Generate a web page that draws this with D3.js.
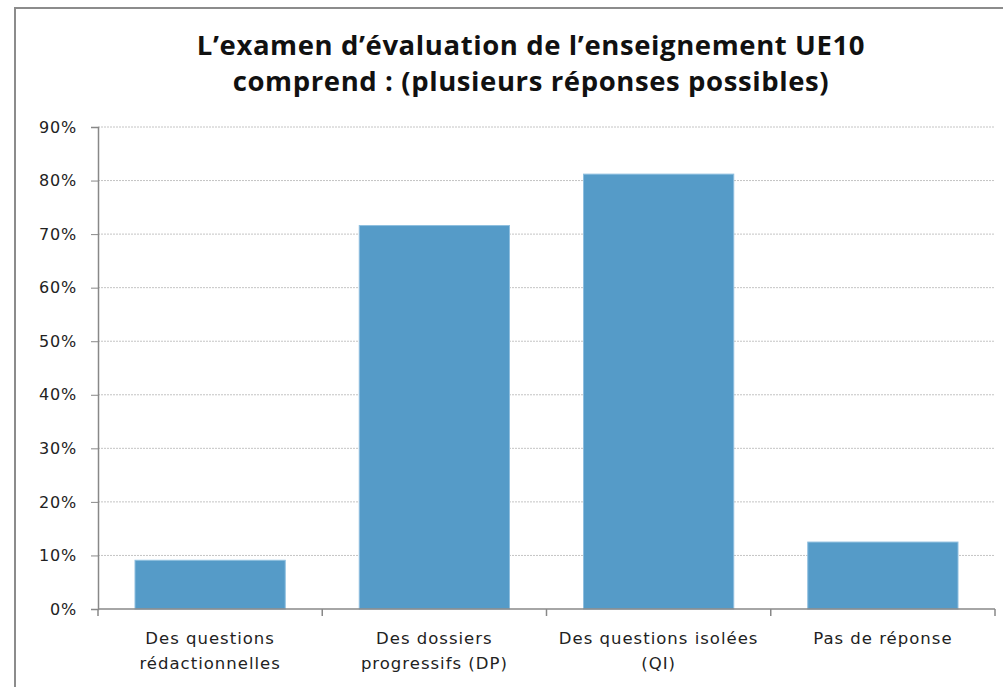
<!DOCTYPE html>
<html>
<head>
<meta charset="utf-8">
<script src="https://cdn.jsdelivr.net/npm/d3@7"></script>
<style>
  body { margin: 0; background: #fff; }
  svg { display: block; }
</style>
</head>
<body>
<div id="chart"></div>
<script>
// chart data
const categories = ["Des questions rédactionnelles", "Des dossiers progressifs (DP)", "Des questions isolées (QI)", "Pas de réponse"];
const categoryLines = [["Des questions", "rédactionnelles"], ["Des dossiers", "progressifs (DP)"], ["Des questions isolées", "(QI)"], ["Pas de réponse"]];
const values = [0.091, 0.716, 0.812, 0.125];
const yTicks = [0, 0.1, 0.2, 0.3, 0.4, 0.5, 0.6, 0.7, 0.8, 0.9];
const titleLines = ["L\u2019examen d\u2019évaluation de l\u2019enseignement UE10", "comprend : (plusieurs réponses possibles)"];

const width = 1003, height = 687;
const margin = { top: 127, right: 8, bottom: 78, left: 98 };
const labelFont = "DejaVu Sans, Verdana, sans-serif";

const svg = d3.select("#chart").append("svg")
    .attr("width", width)
    .attr("height", height);

// outer frame (cropped at right and bottom)
svg.append("rect")
    .attr("x", 15).attr("y", 8)
    .attr("width", 1100).attr("height", 800)
    .attr("fill", "none")
    .attr("stroke", "#8c8c8c")
    .attr("stroke-width", 2);

const x = d3.scaleBand()
    .domain(categories)
    .range([margin.left, width - margin.right])
    .paddingInner(0.33)
    .paddingOuter(0.165);

const y = d3.scaleLinear()
    .domain([0, 0.9])
    .range([height - margin.bottom, margin.top]);

// gridlines
svg.append("g")
    .selectAll("line")
    .data(yTicks.slice(1))
    .join("line")
    .attr("x1", margin.left).attr("x2", width - margin.right)
    .attr("y1", d => y(d)).attr("y2", d => y(d))
    .attr("stroke", "#c4c4c4")
    .attr("stroke-dasharray", "2,1");

// bars
svg.append("g")
    .selectAll("rect")
    .data(values)
    .join("rect")
    .attr("x", (d, i) => x(categories[i]))
    .attr("width", x.bandwidth())
    .attr("y", d => y(d))
    .attr("height", d => y(0) - y(d))
    .attr("fill", "#559bc8")
    .attr("stroke", "#8fbfdf")
    .attr("stroke-width", 1);

// y axis
const yAxis = svg.append("g")
    .attr("transform", `translate(${margin.left},0)`)
    .call(d3.axisLeft(y).tickValues(yTicks).tickFormat(d3.format(".0%")).tickSize(7).tickPadding(14));
yAxis.select(".domain").attr("stroke", "#888").attr("stroke-width", 1.5);
yAxis.selectAll(".tick line").attr("stroke", "#888");
yAxis.selectAll("text")
    .attr("font-family", labelFont)
    .attr("font-size", 16)
    .attr("letter-spacing", 0.8)
    .attr("fill", "#222");

// x axis with ticks at category boundaries
const plotW = width - margin.right - margin.left;
const xAxis = svg.append("g");
xAxis.append("line")
    .attr("x1", margin.left).attr("x2", width - margin.right)
    .attr("y1", y(0)).attr("y2", y(0))
    .attr("stroke", "#888").attr("stroke-width", 1.5);
xAxis.selectAll(".btick")
    .data(d3.range(categories.length + 1))
    .join("line")
    .attr("class", "btick")
    .attr("x1", i => margin.left + i * plotW / categories.length)
    .attr("x2", i => margin.left + i * plotW / categories.length)
    .attr("y1", y(0)).attr("y2", y(0) + 7)
    .attr("stroke", "#888").attr("stroke-width", 1.5);

// category labels
const labels = xAxis.selectAll(".clabel")
    .data(categories)
    .join("text")
    .attr("class", "clabel")
    .attr("text-anchor", "middle")
    .attr("font-family", labelFont)
    .attr("font-size", 16.5)
    .attr("letter-spacing", 1)
    .attr("fill", "#222");
labels.each(function (d, i) {
    const cx = x(d) + x.bandwidth() / 2;
    d3.select(this).selectAll("tspan")
        .data(categoryLines[i])
        .join("tspan")
        .attr("x", cx)
        .attr("y", (t, j) => y(0) + 35 + j * 25)
        .text(t => t);
});

// title
svg.append("text")
    .attr("text-anchor", "middle")
    .attr("font-family", "Open Sans, sans-serif")
    .attr("font-weight", "bold")
    .attr("font-size", 27.5)
    .attr("letter-spacing", 0.6)
    .attr("fill", "#111")
    .selectAll("tspan")
    .data(titleLines)
    .join("tspan")
    .attr("x", 531)
    .attr("y", (d, i) => 55 + i * 36)
    .text(d => d);
</script>
</body>
</html>
